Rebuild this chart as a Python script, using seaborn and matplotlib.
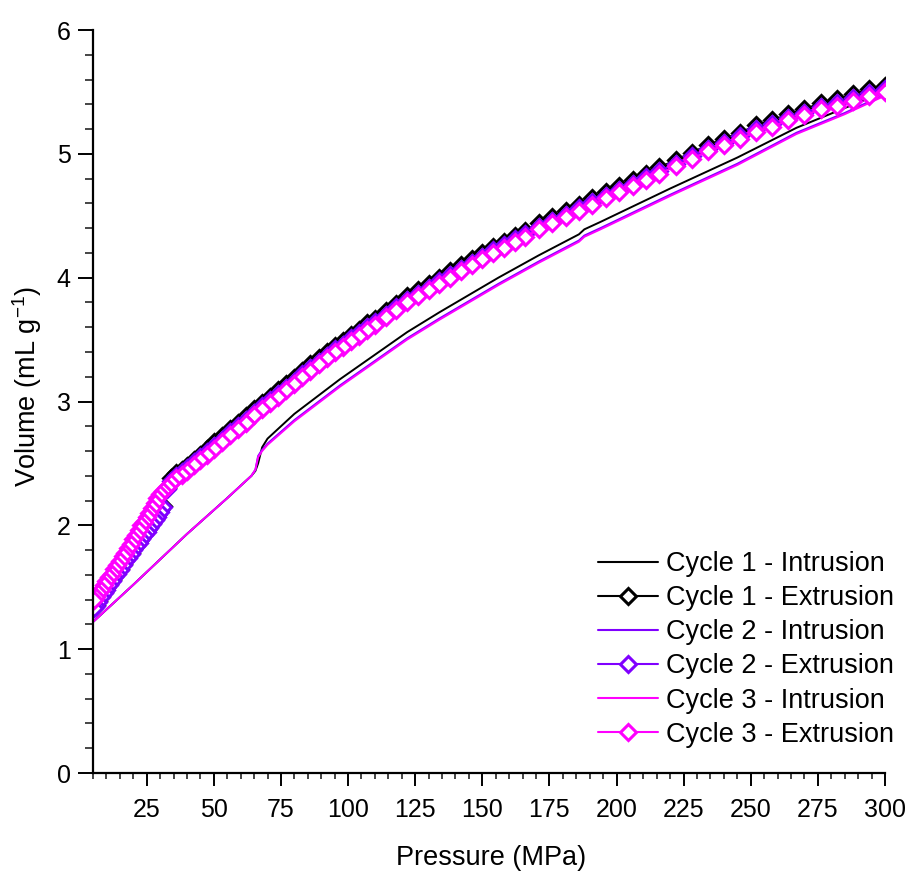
import numpy as np
import pandas as pd
import matplotlib
matplotlib.use("Agg")
import matplotlib.pyplot as plt
from matplotlib.ticker import MultipleLocator
import seaborn as sns

# ---------------- data ----------------
p_intr = [5, 20, 40, 55, 64, 65.5, 66.5, 68, 70, 80, 97, 122, 134, 156, 171,
          186, 188, 194, 220, 245, 267, 285, 300]
v_c1_intr = [1.22, 1.52, 1.93, 2.22, 2.40, 2.44, 2.50, 2.63, 2.70, 2.90, 3.18,
             3.56, 3.72, 4.00, 4.18, 4.35, 4.39, 4.45, 4.72, 4.97, 5.21, 5.37, 5.50]
v_c2_intr = [1.22, 1.52, 1.93, 2.22, 2.40, 2.45, 2.56, 2.61, 2.66, 2.85, 3.13,
             3.51, 3.67, 3.95, 4.13, 4.30, 4.34, 4.40, 4.67, 4.92, 5.17, 5.33, 5.48]
v_c3_intr = [1.22, 1.52, 1.93, 2.22, 2.40, 2.45, 2.55, 2.60, 2.65, 2.84, 3.12,
             3.50, 3.66, 3.94, 4.12, 4.29, 4.33, 4.39, 4.66, 4.91, 5.16, 5.32, 5.47]

p_extr = [300, 294, 288, 282, 276, 270, 264, 258, 252, 246,
          240, 234, 228, 222, 216, 211, 206, 201, 196, 191,
          186, 181, 176, 171, 166, 162, 158, 154, 150, 146,
          142, 138, 134, 130, 126, 122, 118, 114, 110, 107,
          104, 101, 98, 95, 92, 89, 86, 83, 80, 77,
          74, 71, 68, 65, 62, 59, 56, 53, 50, 47.5,
          45, 42.5, 40, 38, 36, 34, 32.5, 31, 30, 29,
          28, 27, 26, 25, 24, 23, 22, 21, 20, 19,
          18, 17, 16, 15, 14, 13, 12, 11, 10, 9,
          8, 7, 6, 5.5]
v_c1_extr = [5.55, 5.52, 5.48, 5.44, 5.41, 5.36, 5.32, 5.27, 5.23, 5.17,
             5.12, 5.07, 5.01, 4.95, 4.89, 4.84, 4.79, 4.74, 4.69, 4.64,
             4.59, 4.54, 4.49, 4.44, 4.38, 4.34, 4.29, 4.25, 4.20, 4.15,
             4.10, 4.05, 4.00, 3.95, 3.90, 3.85, 3.79, 3.73, 3.67, 3.63,
             3.58, 3.54, 3.49, 3.45, 3.40, 3.35, 3.30, 3.25, 3.19, 3.14,
             3.09, 3.04, 2.99, 2.94, 2.88, 2.83, 2.78, 2.72, 2.67, 2.62,
             2.57, 2.53, 2.48, 2.45, 2.42, 2.38, 2.30, 2.16, 2.12, 2.08,
             2.05, 2.02, 1.99, 1.96, 1.93, 1.90, 1.87, 1.84, 1.81, 1.78,
             1.75, 1.72, 1.69, 1.65, 1.62, 1.59, 1.56, 1.53, 1.49, 1.46,
             1.43, 1.39, 1.36, 1.34]
v_c2_extr = [5.52, 5.49, 5.45, 5.41, 5.38, 5.33, 5.29, 5.24, 5.20, 5.14,
             5.09, 5.04, 4.98, 4.92, 4.86, 4.81, 4.76, 4.71, 4.66, 4.61,
             4.56, 4.51, 4.46, 4.41, 4.35, 4.31, 4.26, 4.22, 4.17, 4.12,
             4.07, 4.02, 3.97, 3.92, 3.87, 3.82, 3.76, 3.70, 3.64, 3.60,
             3.55, 3.51, 3.46, 3.42, 3.37, 3.32, 3.27, 3.22, 3.16, 3.11,
             3.06, 3.01, 2.96, 2.91, 2.85, 2.80, 2.75, 2.69, 2.64, 2.59,
             2.55, 2.51, 2.46, 2.43, 2.40, 2.36, 2.29, 2.15, 2.11, 2.07,
             2.04, 2.01, 1.98, 1.95, 1.92, 1.89, 1.86, 1.83, 1.80, 1.77,
             1.74, 1.71, 1.68, 1.64, 1.61, 1.58, 1.55, 1.52, 1.48, 1.45,
             1.42, 1.38, 1.35, 1.33]
v_c3_extr = [5.50, 5.47, 5.43, 5.39, 5.36, 5.31, 5.27, 5.22, 5.18, 5.12,
             5.07, 5.02, 4.96, 4.90, 4.84, 4.79, 4.74, 4.69, 4.64, 4.59,
             4.54, 4.49, 4.44, 4.39, 4.33, 4.29, 4.24, 4.20, 4.15, 4.10,
             4.05, 4.00, 3.95, 3.90, 3.85, 3.80, 3.74, 3.68, 3.62, 3.58,
             3.53, 3.49, 3.44, 3.40, 3.35, 3.30, 3.25, 3.20, 3.14, 3.09,
             3.04, 2.99, 2.94, 2.89, 2.83, 2.78, 2.73, 2.67, 2.62, 2.57,
             2.53, 2.49, 2.44, 2.41, 2.38, 2.34, 2.31, 2.28, 2.25, 2.22,
             2.18, 2.14, 2.10, 2.07, 2.03, 2.00, 1.96, 1.92, 1.89, 1.85,
             1.82, 1.78, 1.75, 1.71, 1.68, 1.65, 1.61, 1.58, 1.55, 1.52,
             1.48, 1.45, 1.42, 1.40]

labels = ["Cycle 1 - Intrusion", "Cycle 1 - Extrusion",
          "Cycle 2 - Intrusion", "Cycle 2 - Extrusion",
          "Cycle 3 - Intrusion", "Cycle 3 - Extrusion"]
x_ticks = [25, 50, 75, 100, 125, 150, 175, 200, 225, 250, 275, 300]
y_ticks = [0, 1, 2, 3, 4, 5, 6]

# ---------------- style ----------------
sns.set_style("ticks")
plt.rcParams["font.family"] = ["Liberation Sans", "DejaVu Sans"]
plt.rcParams["mathtext.fontset"] = "custom"
plt.rcParams["mathtext.rm"] = "Liberation Sans"
plt.rcParams["text.color"] = "black"
plt.rcParams["axes.labelcolor"] = "black"

colors = {"1": "#000000", "2": "#8000FF", "3": "#FF00FF"}

fig = plt.figure(figsize=(9.14, 8.72), dpi=100)
ax = fig.add_axes([93 / 914, 99 / 872, 792 / 914, 743 / 872])

series = [
    (p_intr, v_c1_intr, labels[0], colors["1"], False),
    (p_extr, v_c1_extr, labels[1], colors["1"], True),
    (p_intr, v_c2_intr, labels[2], colors["2"], False),
    (p_extr, v_c2_extr, labels[3], colors["2"], True),
    (p_intr, v_c3_intr, labels[4], colors["3"], False),
    (p_extr, v_c3_extr, labels[5], colors["3"], True),
]

for px, vy, lab, col, mk in series:
    df = pd.DataFrame({"Pressure": px, "Volume": vy})
    if mk:
        sns.lineplot(data=df, x="Pressure", y="Volume", ax=ax, color=col,
                     label=lab, estimator=None, sort=False, lw=1.5,
                     marker="D", markersize=8.5, markerfacecolor="white",
                     markeredgecolor=col, markeredgewidth=2.2)
    else:
        sns.lineplot(data=df, x="Pressure", y="Volume", ax=ax, color=col,
                     label=lab, estimator=None, sort=False, lw=1.4)

ax.set_xlim(5, 300)
ax.set_ylim(0, 6)
ax.set_xticks(x_ticks)
ax.set_yticks(y_ticks)
ax.xaxis.set_minor_locator(MultipleLocator(5))
ax.yaxis.set_minor_locator(MultipleLocator(0.2))
sns.despine(ax=ax)
for s in ["left", "bottom"]:
    ax.spines[s].set_linewidth(1.6)
    ax.spines[s].set_color("black")

ax.tick_params(axis="x", which="major", direction="out", length=9, width=1.4,
               labelsize=18, pad=9, colors="black")
ax.tick_params(axis="x", which="minor", direction="out", length=4, width=1.2)
ax.tick_params(axis="y", which="major", direction="out", length=11, width=1.4,
               labelsize=18, pad=5, colors="black")
ax.tick_params(axis="y", which="minor", direction="out", length=6, width=1.2)

ax.set_xlabel("Pressure (MPa)", fontsize=19.5)
ax.set_ylabel("Volume (mL g$^{-1}$)", fontsize=19.5)
ax.xaxis.set_label_coords(0.503, -0.097)
ax.yaxis.set_label_coords(-0.062, 0.52)

leg = ax.legend(loc="upper left", bbox_to_anchor=(598 / 914, 1 - 551 / 872),
                bbox_transform=fig.transFigure, frameon=False, fontsize=19.5,
                handlelength=2.2, handletextpad=0.3, labelspacing=0.3,
                borderpad=0, borderaxespad=0)
for h in leg.legend_handles:
    h.set_linewidth(1.5)

fig.savefig("out.png", dpi=100)
